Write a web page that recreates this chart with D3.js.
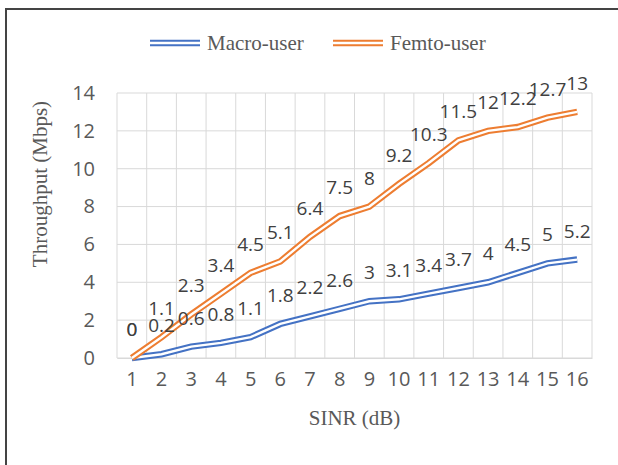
<!DOCTYPE html>
<html>
<head>
<meta charset="utf-8">
<script src="https://cdn.jsdelivr.net/npm/d3@7"></script>
<style>
	body { margin: 0; background: #fff; }
	svg { display: block; }
</style>
</head>
<body>
<div id="chart"></div>
<script>
// SINR categories (dB)
var sinr = [1, 2, 3, 4, 5, 6, 7, 8, 9, 10, 11, 12, 13, 14, 15, 16];

// throughput values (Mbps)
var macroUser = [0, 0.2, 0.6, 0.8, 1.1, 1.8, 2.2, 2.6, 3, 3.1, 3.4, 3.7, 4, 4.5, 5, 5.2];
var femtoUser = [0, 1.1, 2.3, 3.4, 4.5, 5.1, 6.4, 7.5, 8, 9.2, 10.3, 11.5, 12, 12.2, 12.7, 13];

var yTicks = [0, 2, 4, 6, 8, 10, 12, 14];

var series = [
	{ name: 'Macro-user', values: macroUser, color: '#4472C4' },
	{ name: 'Femto-user', values: femtoUser, color: '#ED7D31' }
];

var width = 618, height = 465;
var margin = {top: 93, right: 26, bottom: 107, left: 117};

var svg = d3.select("#chart").append("svg")
	.attr("width", width)
	.attr("height", height);

// outer frame (only top and left edges visible)
svg.append("path")
	.attr("d", "M6,465 V9 H618")
	.attr("fill", "none")
	.attr("stroke", "#444")
	.attr("stroke-width", 2);

var xScale = d3.scaleBand()
	.domain(sinr)
	.range([margin.left, width - margin.right]);

var yScale = d3.scaleLinear()
	.domain([0, 14])
	.range([height - margin.bottom, margin.top]);

var xPos = function(d) { return xScale(d) + xScale.bandwidth() / 2; };

// gridlines
var grid = svg.append("g").attr("class", "grid");

grid.selectAll(".hgrid")
	.data(yTicks).enter()
	.append("line")
	.attr("x1", margin.left)
	.attr("x2", width - margin.right)
	.attr("y1", function(d) { return yScale(d); })
	.attr("y2", function(d) { return yScale(d); })
	.attr("stroke", "#d9d9d9")
	.attr("stroke-width", 1);

var bounds = sinr.map(function(d) { return xScale(d); }).concat([width - margin.right]);
grid.selectAll(".vgrid")
	.data(bounds).enter()
	.append("line")
	.attr("x1", function(d) { return d; })
	.attr("x2", function(d) { return d; })
	.attr("y1", margin.top)
	.attr("y2", yScale(0))
	.attr("stroke", "#d9d9d9")
	.attr("stroke-width", 1);

// axes
var xAxis = d3.axisBottom(xScale).tickSize(0).tickPadding(14);
var gx = svg.append("g")
	.attr("transform", "translate(0," + yScale(0) + ")")
	.call(xAxis);
gx.select(".domain").attr("stroke", "#d9d9d9");
gx.selectAll("text")
	.attr("font-family", "'Open Sans', sans-serif")
	.attr("font-size", 20)
	.attr("fill", "#595959");

var yAxis = d3.axisLeft(yScale).tickValues(yTicks).tickSize(0).tickPadding(22);
var gy = svg.append("g")
	.attr("transform", "translate(" + margin.left + ",0)")
	.call(yAxis);
gy.select(".domain").remove();
gy.selectAll("text")
	.attr("font-family", "'Open Sans', sans-serif")
	.attr("font-size", 20)
	.attr("fill", "#595959");

// axis titles
svg.append("text")
	.attr("x", (margin.left + width - margin.right) / 2)
	.attr("y", 425)
	.attr("text-anchor", "middle")
	.attr("font-family", "'Liberation Serif', 'Times New Roman', serif")
	.attr("font-size", 21)
	.attr("fill", "#595959")
	.text("SINR (dB)");

svg.append("text")
	.attr("transform", "translate(47,184) rotate(-90)")
	.attr("text-anchor", "middle")
	.attr("font-family", "'Liberation Serif', 'Times New Roman', serif")
	.attr("font-size", 21)
	.attr("fill", "#595959")
	.text("Throughput (Mbps)");

// double lines: wide coloured stroke with a thin white stroke on top
var line = d3.line()
	.x(function(d, i) { return xPos(sinr[i]); })
	.y(function(d) { return yScale(d); });

series.forEach(function(s) {
	var g = svg.append("g");
	g.append("path")
		.datum(s.values)
		.attr("d", line)
		.attr("fill", "none")
		.attr("stroke", s.color)
		.attr("stroke-width", 6.5);
	g.append("path")
		.datum(s.values)
		.attr("d", line)
		.attr("fill", "none")
		.attr("stroke", "#fff")
		.attr("stroke-width", 2.4);
});

// data labels
series.forEach(function(s) {
	svg.append("g").selectAll("text")
		.data(s.values).enter()
		.append("text")
		.attr("x", function(d, i) { return xPos(sinr[i]); })
		.attr("y", function(d) { return yScale(d) - 22; })
		.attr("text-anchor", "middle")
		.attr("font-family", "'Open Sans', sans-serif")
		.attr("font-size", 19)
		.attr("fill", "#404040")
		.text(function(d) { return d; });
});

// legend
var legend = svg.append("g");
var legendX = [150, 333];
series.forEach(function(s, i) {
	var lg = legend.append("g").attr("transform", "translate(" + legendX[i] + ",43)");
	lg.append("line").attr("x1", 0).attr("x2", 50)
		.attr("stroke", s.color).attr("stroke-width", 6.5);
	lg.append("line").attr("x1", 0).attr("x2", 50)
		.attr("stroke", "#fff").attr("stroke-width", 2.4);
	lg.append("text")
		.attr("x", 57)
		.attr("y", 7)
		.attr("font-family", "'Liberation Serif', 'Times New Roman', serif")
		.attr("font-size", 21)
		.attr("fill", "#595959")
		.text(s.name);
});
</script>
</body>
</html>
